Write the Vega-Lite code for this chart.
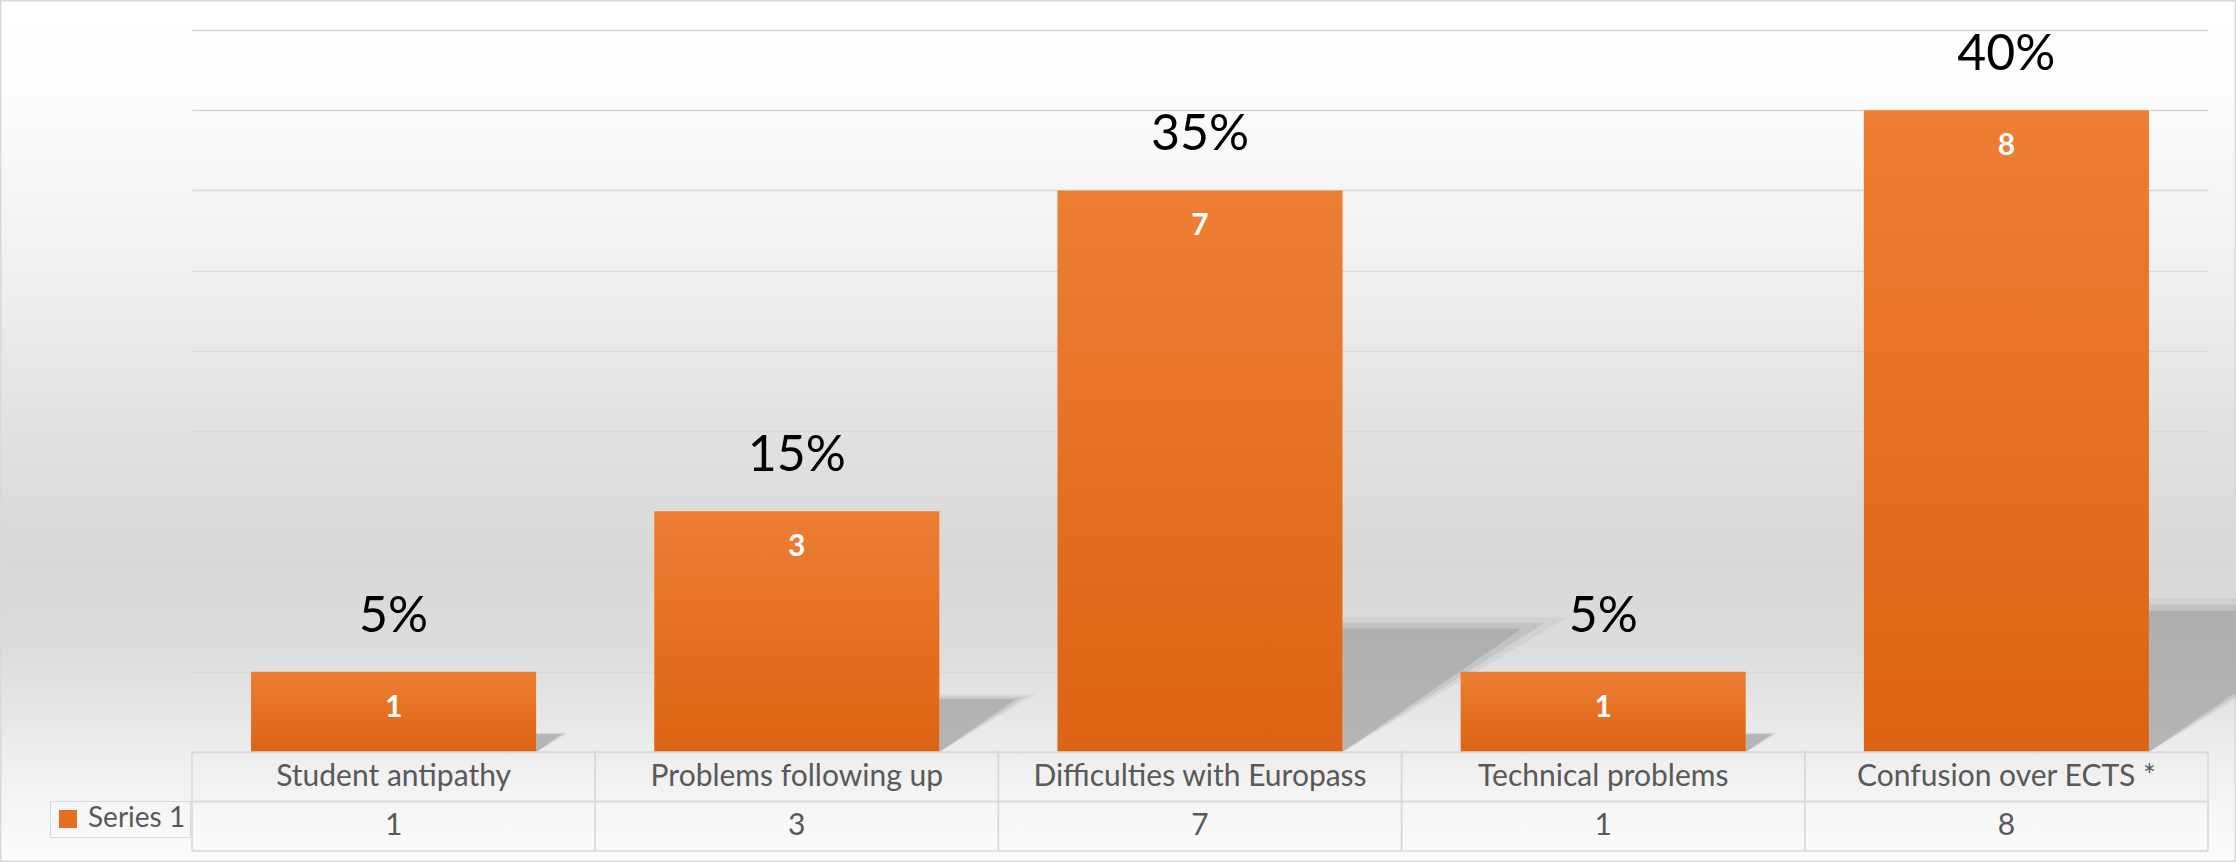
{
  "$schema": "https://vega.github.io/schema/vega-lite/v6.json",
  "width": 2236,
  "height": 862,
  "autosize": "none",
  "padding": 0,
  "background": "#ffffff",
  "config": {
    "view": {
      "fill": {"gradient": "linear", "x1": 0, "y1": 0, "x2": 0, "y2": 1,
        "stops": [
          {"offset": 0, "color": "#ffffff"},
          {"offset": 0.1, "color": "#fdfdfd"},
          {"offset": 0.3, "color": "#f1f1f1"},
          {"offset": 0.5, "color": "#e1e1e1"},
          {"offset": 0.65, "color": "#d8d8d8"},
          {"offset": 0.75, "color": "#dcdcdc"},
          {"offset": 0.86, "color": "#ebebeb"},
          {"offset": 0.93, "color": "#f5f5f5"},
          {"offset": 1, "color": "#fcfcfc"}
        ]},
      "stroke": "#d9d9d9",
      "strokeWidth": 3
    },
    "font": "Lato"
  },
  "data": {"values": [
    {"category": "Student antipathy", "count": 1, "pct": 0.05},
    {"category": "Problems following up", "count": 3, "pct": 0.15},
    {"category": "Difficulties with Europass", "count": 7, "pct": 0.35},
    {"category": "Technical problems", "count": 1, "pct": 0.05},
    {"category": "Confusion over ECTS *", "count": 8, "pct": 0.40}
  ]},
  "encoding": {
    "x": {"field": "category", "type": "nominal", "sort": null,
      "scale": {"range": [192, 2208], "paddingInner": 0, "paddingOuter": 0},
      "axis": null}
  },
  "layer": [
    {
      "encoding": {
        "y": {"field": "count", "type": "quantitative",
          "scale": {"domain": [0, 9], "range": [752, 30], "nice": false, "zero": true},
          "axis": {"orient": "left", "offset": -2208, "values": [0,1,2,3,4,5,6,7,8,9],
            "tickSize": 2016, "tickColor": "#d9d9d9", "tickWidth": 1.5,
            "labels": false, "domain": false, "grid": false, "title": null, "zindex": 0}}
      },
      "layer": [
        {
          "mark": {"type": "point", "filled": true, "shape": "M 0 0 L 0 -0.48 L 0.80 -0.48 Z", "fill": "#999999", "stroke": null, "opacity": 0.15},
          "encoding": {
            "x": {"field": "category", "type": "nominal", "sort": null, "bandPosition": 0.8535},
            "y": {"datum": 0, "type": "quantitative"},
            "size": {"field": "count", "type": "quantitative", "scale": {"type": "pow", "exponent": 2, "domain": [0, 9], "range": [0, 521284]}, "legend": null}
          }
        },
        {
          "mark": {"type": "point", "filled": true, "shape": "M 0 0 L 0 -0.46 L 0.72 -0.46 Z", "fill": "#999999", "stroke": null, "opacity": 0.25},
          "encoding": {
            "x": {"field": "category", "type": "nominal", "sort": null, "bandPosition": 0.8535},
            "y": {"datum": 0, "type": "quantitative"},
            "size": {"field": "count", "type": "quantitative", "scale": {"type": "pow", "exponent": 2, "domain": [0, 9], "range": [0, 521284]}, "legend": null}
          }
        },
        {
          "mark": {"type": "point", "filled": true, "shape": "M 0 0 L 0 -0.44 L 0.64 -0.44 Z", "fill": "#999999", "stroke": null, "opacity": 0.45},
          "encoding": {
            "x": {"field": "category", "type": "nominal", "sort": null, "bandPosition": 0.8535},
            "y": {"datum": 0, "type": "quantitative"},
            "size": {"field": "count", "type": "quantitative", "scale": {"type": "pow", "exponent": 2, "domain": [0, 9], "range": [0, 521284]}, "legend": null}
          }
        },
        {
          "mark": {"type": "bar", "opacity": 0},
          "encoding": {
            "color": {"datum": "Series 1", "type": "nominal",
              "scale": {"range": ["#E4701F"]},
              "legend": {"orient": "none", "legendX": 50, "legendY": 801, "title": null,
                "strokeColor": "#d9d9d9", "padding": 4, "symbolType": "square",
                "symbolSize": 324, "symbolOpacity": 1, "symbolStrokeWidth": 0,
                "labelFontSize": 28, "labelColor": "#595959", "labelFont": "Lato", "labelOffset": 6}}
          }
        },
        {
          "mark": {"type": "bar", "width": {"band": 0.707},
            "fill": {"gradient": "linear", "x1": 0, "y1": 0, "x2": 0, "y2": 1,
              "stops": [{"offset": 0, "color": "#EE7E33"}, {"offset": 1, "color": "#DC6313"}]}}
        },
        {
          "mark": {"type": "text", "baseline": "alphabetic", "dy": -40, "fontSize": 50, "color": "#000000", "font": "Lato"},
          "encoding": {"text": {"field": "pct", "type": "quantitative", "format": ".0%"}}
        },
        {
          "mark": {"type": "text", "baseline": "alphabetic", "dy": 45, "fontSize": 30, "fontWeight": "bold", "color": "#ffffff", "font": "Lato"},
          "encoding": {"text": {"field": "count", "type": "quantitative"}}
        }
      ]
    },
    {
      "transform": [{"fold": ["category", "count"], "as": ["key", "value"]}],
      "encoding": {
        "y": {"field": "key", "type": "nominal", "sort": ["category", "count"],
          "scale": {"domain": ["category", "count"], "range": [752, 851], "paddingInner": 0, "paddingOuter": 0},
          "axis": null}
      },
      "layer": [
        {"mark": {"type": "rect", "fill": null, "stroke": "#d9d9d9", "strokeWidth": 1.5}},
        {"mark": {"type": "text", "fontSize": 30, "color": "#595959", "font": "Lato", "baseline": "middle"},
         "encoding": {"text": {"field": "value", "type": "nominal"}}}
      ]
    }
  ],
  "resolve": {"scale": {"y": "independent"}}
}
